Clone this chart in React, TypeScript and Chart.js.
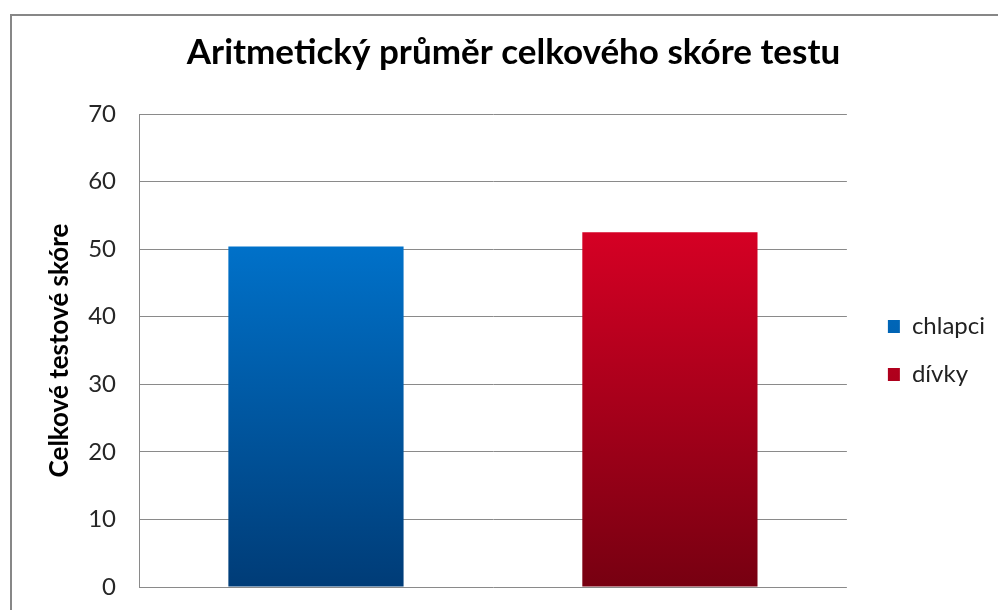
import React, { useEffect, useRef } from 'react';
import { Chart, registerables } from 'chart.js';

Chart.register(...registerables);

// ---- data ----
const categories = [''];
const seriesLabels = ['chlapci', 'dívky'];
const chlapciValues = [50.4];
const divkyValues = [52.5];
const yMin = 0;
const yMax = 70;
const yStep = 10;
const titleText = 'Aritmetický průměr celkového skóre testu';
const yTitleText = 'Celkové testové skóre';

// ---- style ----
const blueTop = '#0071C9';
const blueBottom = '#003C77';
const redTop = '#D50024';
const redBottom = '#770011';
const gridColor = '#8a8a8a';
const FONT = 'Lato, "Open Sans", sans-serif';

function gradientFill(top: string, bottom: string) {
  return (ctx: any) => {
    const chart = ctx.chart;
    const area = chart.chartArea;
    const ys = chart.scales && chart.scales.y;
    if (!area || !ys) return top;
    const v = typeof ctx.raw === 'number' ? ctx.raw : yMax;
    const y0 = ys.getPixelForValue(v);
    const y1 = ys.getPixelForValue(0);
    const g = chart.ctx.createLinearGradient(0, y0, 0, y1);
    g.addColorStop(0, top);
    g.addColorStop(1, bottom);
    return g;
  };
}

export default function App() {
  const ref = useRef<HTMLCanvasElement | null>(null);

  useEffect(() => {
    if (!ref.current) return;
    const chart = new Chart(ref.current, {
      type: 'bar',
      data: {
        labels: categories,
        datasets: [
          {
            label: seriesLabels[0],
            data: chlapciValues,
            backgroundColor: gradientFill(blueTop, blueBottom) as any,
            borderWidth: 0,
          },
          {
            label: seriesLabels[1],
            data: divkyValues,
            backgroundColor: gradientFill(redTop, redBottom) as any,
            borderWidth: 0,
          },
        ],
      },
      options: {
        responsive: false,
        animation: false,
        devicePixelRatio: 1,
        categoryPercentage: 1,
        barPercentage: 0.495,
        layout: { padding: { top: 16, left: 32, right: 3, bottom: 23 } },
        plugins: {
          tooltip: { enabled: false },
          title: {
            display: true,
            text: titleText,
            color: '#000',
            font: { family: FONT, size: 35, weight: 'bold' },
            padding: { top: 16, bottom: 40 },
          },
          legend: {
            display: true,
            position: 'right',
            fullSize: false,
            labels: {
              color: '#222',
              font: { family: FONT, size: 24 },
              boxWidth: 12,
              boxHeight: 13,
              padding: 24,
            },
          },
        },
        scales: {
          x: {
            display: false,
            grid: { display: false },
          },
          y: {
            min: yMin,
            max: yMax,
            ticks: {
              stepSize: yStep,
              color: '#262626',
              font: { family: FONT, size: 24 },
              padding: 0,
            },
            grid: {
              color: gridColor,
              lineWidth: 1,
              drawTicks: true,
              tickLength: 23,
              tickColor: 'rgba(0,0,0,0)',
            },
            border: { display: true, color: gridColor, width: 1 },
            title: {
              display: true,
              text: yTitleText,
              color: '#000',
              font: { family: FONT, size: 26, weight: 'bold' },
              padding: { top: 12, bottom: 0 },
            },
            afterFit: (s: any) => {
              s.width = 107;
            },
          },
          y2: {
            position: 'right',
            display: true,
            grid: { display: false },
            border: { display: false },
            ticks: { display: false },
            afterFit: (s: any) => {
              s.width = 17;
            },
          },
        },
      } as any,
    });
    return () => chart.destroy();
  }, []);

  return (
    <div style={{ position: 'fixed', left: 0, top: 0, width: 998, height: 610, overflow: 'hidden', background: '#fff' }}>
      <div
        style={{
          position: 'absolute',
          left: 10,
          top: 14,
          width: 1100,
          height: 800,
          border: '2px solid #878787',
          boxSizing: 'border-box',
        }}
      />
      <canvas
        ref={ref}
        width={998}
        height={610}
        style={{ position: 'absolute', left: 0, top: 0, width: 998, height: 610 }}
      />
    </div>
  );
}
